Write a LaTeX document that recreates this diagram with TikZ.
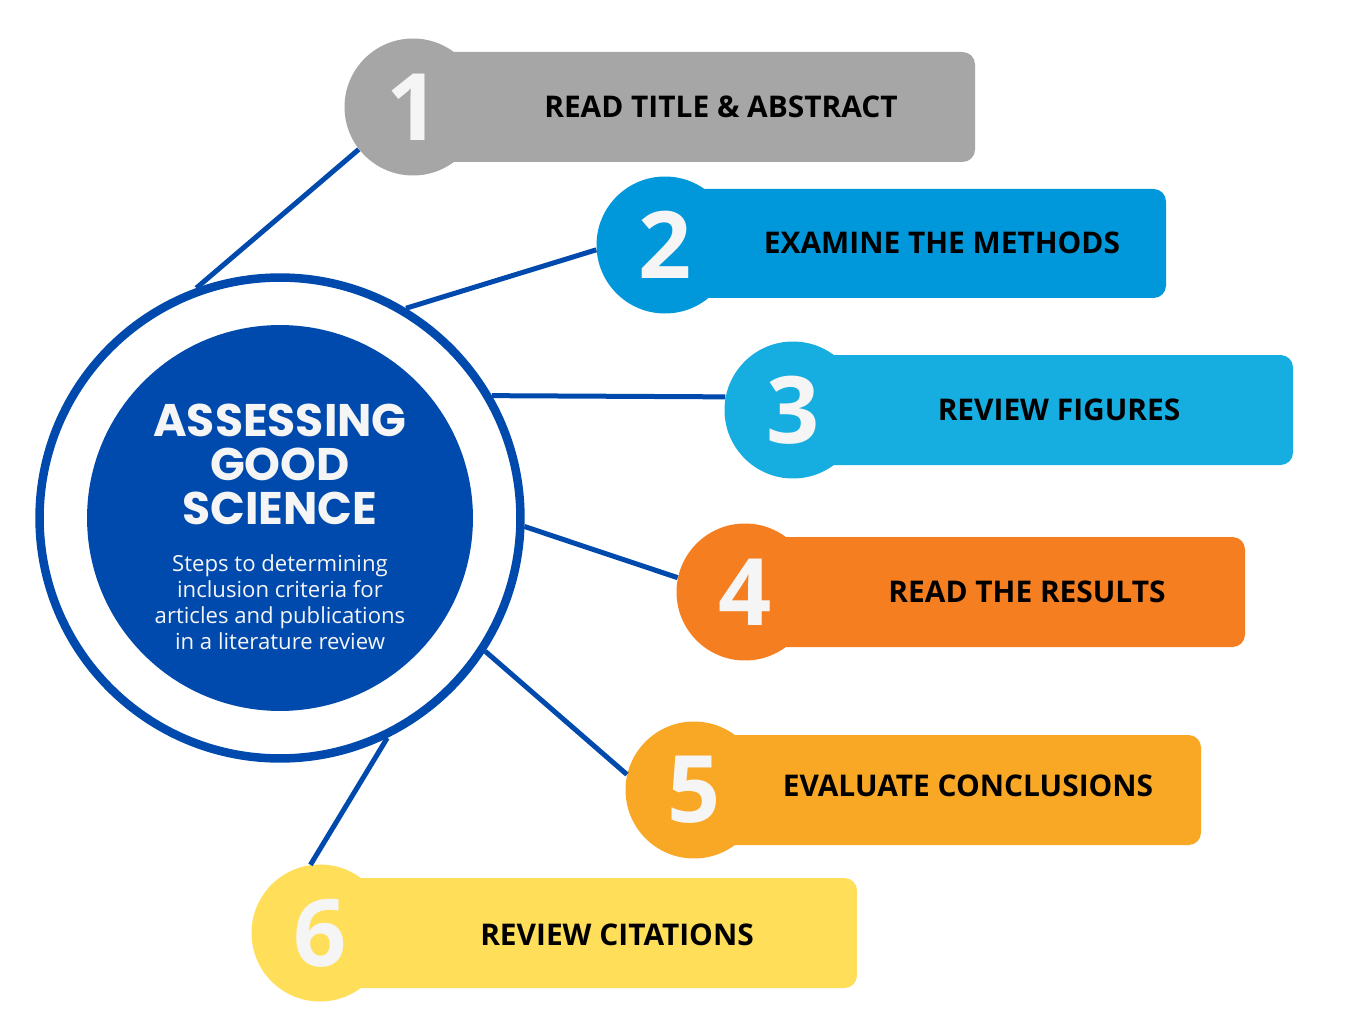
\documentclass[tikz,border=0pt]{standalone}
\usepackage{fontspec}
\setmainfont{Open Sans}
\newfontfamily\titlefont{Poppins}
\usetikzlibrary{positioning}

\definecolor{navy}{HTML}{004AAD}
\definecolor{stepgray}{HTML}{A6A6A6}
\definecolor{stepblue}{HTML}{0098DA}
\definecolor{stepsky}{HTML}{16AEE0}
\definecolor{steporange}{HTML}{F47E20}
\definecolor{stepamber}{HTML}{F9A826}
\definecolor{stepyellow}{HTML}{FFDE59}
\definecolor{numwhite}{HTML}{F5F5F5}

\begin{document}
\begin{tikzpicture}[x=0.02cm, y=-0.02cm,
    stepcirc/.style={circle, fill=#1, minimum size=2.74cm, inner sep=0pt,
      text=numwhite, font=\fontsize{53}{53}\selectfont\bfseries},
    stepbar/.style={fill=#1, rounded corners=0.25cm},
    steplabel/.style={font=\fontsize{17}{20}\selectfont\bfseries, text=black},
    link/.style={draw=navy, line width=0.1cm}]
    \useasboundingbox[fill=white] (0,0) rectangle (1358,1030);

    % centre
    \node[circle, draw=navy, line width=0.17cm, minimum size=9.62cm] (hub) at (280,518) {};
    \node[circle, fill=navy, minimum size=7.72cm] (core) at (280,518) {};
    \node[text=numwhite, align=center, font=\titlefont\fontsize{26}{25}\selectfont\bfseries] (title) at (280,464) {ASSESSING\\GOOD\\SCIENCE};
    \node[text=numwhite, align=center, font=\fontsize{12.6}{14.7}\selectfont, below=3.6mm of title] (sub) {Steps to determining\\inclusion criteria for\\articles and publications\\in a literature review};

    % steps
    \fill[stepbar=stepgray] (413,52) rectangle (975,162);
    \fill[stepbar=stepblue] (665,189) rectangle (1166,298);
    \fill[stepbar=stepsky] (793,355) rectangle (1293,465);
    \fill[stepbar=steporange] (745,537) rectangle (1245,647);
    \fill[stepbar=stepamber] (694,735) rectangle (1201,845);
    \fill[stepbar=stepyellow] (320,878) rectangle (857,988);

    \node[stepcirc=stepgray] (n1) at (413,107) {1};
    \node[stepcirc=stepblue] (n2) at (665,245) {2};
    \node[stepcirc=stepsky] (n3) at (793,410) {3};
    \node[stepcirc=steporange] (n4) at (745,592) {4};
    \node[stepcirc=stepamber] (n5) at (694,790) {5};
    \node[stepcirc=stepyellow] (n6) at (320,933) {6};

    \node[steplabel] (l1) at (721,107) {READ TITLE \& ABSTRACT};
    \node[steplabel] (l2) at (942,243) {EXAMINE THE METHODS};
    \node[steplabel] (l3) at (1059,410) {REVIEW FIGURES};
    \node[steplabel] (l4) at (1027,592) {READ THE RESULTS};
    \node[steplabel] (l5) at (968,786) {EVALUATE CONCLUSIONS};
    \node[steplabel] (l6) at (617,935) {REVIEW CITATIONS};

    % connectors
    \draw[link] (hub.110) -- (n1.218);
    \draw[link] (hub.59) -- (n2.184);
    \draw[link] (hub.30) -- (n3.169);
    \draw[link] (hub.-2) -- (n4.168);
    \draw[link] (hub.-33) -- (n5.167);
    \draw[link] (hub.-64) -- (n6.98);
\end{tikzpicture}
\end{document}
